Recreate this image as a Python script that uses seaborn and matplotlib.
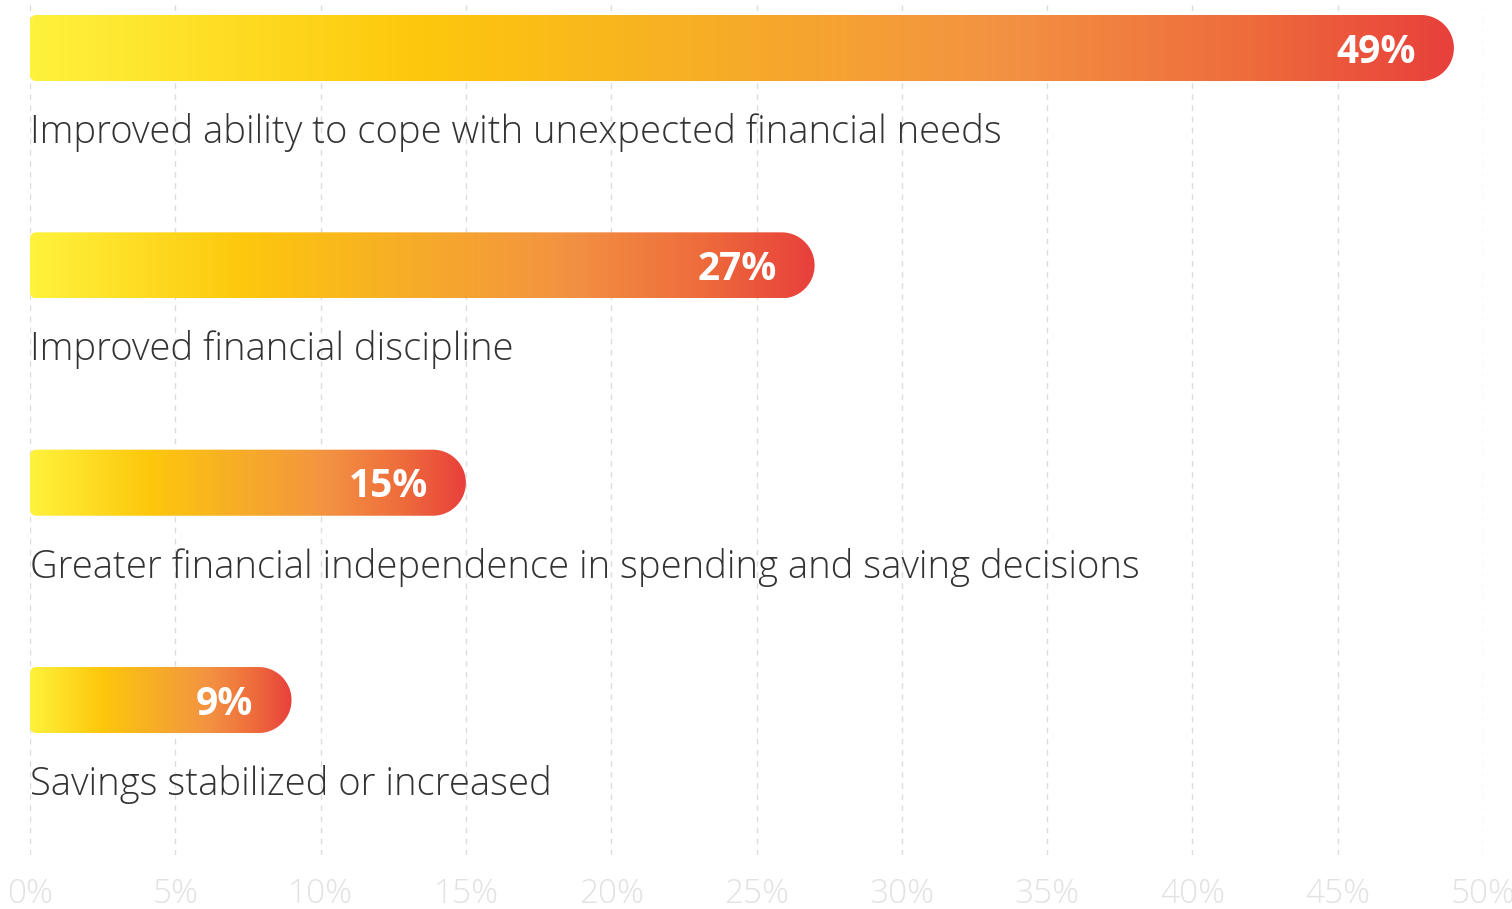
import numpy as np
import matplotlib
matplotlib.use("Agg")
import matplotlib.pyplot as plt
import seaborn as sns
import pandas as pd
from matplotlib.path import Path
from matplotlib.patches import PathPatch
from matplotlib.colors import LinearSegmentedColormap
from matplotlib.transforms import IdentityTransform

# Survey results
categories = [
    "Improved ability to cope with unexpected financial needs",
    "Improved financial discipline",
    "Greater financial independence in spending and saving decisions",
    "Savings stabilized or increased",
]
values = [49, 27, 15, 9]
tick_values = [0, 5, 10, 15, 20, 25, 30, 35, 40, 45, 50]
tick_labels = [f"{v}%" for v in tick_values]

sns.set_theme(style="white")
plt.rcParams["font.family"] = ["Open Sans", "DejaVu Sans"]

W, H, DPI = 1512, 909, 100
fig = plt.figure(figsize=(W / DPI, H / DPI), dpi=DPI)
ax = fig.add_axes([30 / W, 54 / H, 1453 / W, 855 / H])

df = pd.DataFrame({"category": categories, "value": values})
sns.barplot(data=df, x="value", y="category", orient="h", width=0.304,
            color="white", ax=ax, zorder=1)

ax.set_xlim(0, 50)
ax.set_ylim(3.713, -0.221)

# Axis styling
for s in ax.spines.values():
    s.set_visible(False)
ax.set_xlabel("")
ax.set_ylabel("")
ax.set_yticks([])
ax.set_xticks(tick_values)
ax.set_xticklabels(tick_labels, fontsize=24, color="#e2e2e2", fontweight="light")
ax.tick_params(axis="x", length=0, pad=16)
ax.xaxis.grid(True, linestyle=(0, (4, 4)), color="#dcdcdc", linewidth=1)
ax.set_axisbelow(True)

grad_cmap = LinearSegmentedColormap.from_list(
    "bar_grad",
    [(0.0, "#fff23c"), (0.27, "#fdc80c"), (0.52, "#f6a82c"),
     (0.68, "#f39342"), (0.86, "#ee6b3c"), (1.0, "#e8403b")],
)

fig.canvas.draw()


def rounded_bar_path(x0, y0, x1, y1, r_left=6, n=40):
    R = (y1 - y0) / 2.0
    yc = (y0 + y1) / 2.0
    pts = [(x0 + r_left, y0), (x1 - R, y0)]
    for a in np.linspace(-np.pi / 2, np.pi / 2, n):
        pts.append((x1 - R + R * np.cos(a), yc + R * np.sin(a)))
    pts.append((x0 + r_left, y1))
    for a in np.linspace(np.pi / 2, np.pi, n // 2):
        pts.append((x0 + r_left + r_left * np.cos(a), y1 - r_left + r_left * np.sin(a)))
    for a in np.linspace(np.pi, 1.5 * np.pi, n // 2):
        pts.append((x0 + r_left + r_left * np.cos(a), y0 + r_left + r_left * np.sin(a)))
    pts.append(pts[0])
    codes = [Path.MOVETO] + [Path.LINETO] * (len(pts) - 2) + [Path.CLOSEPOLY]
    return Path(pts, codes)


grad = np.linspace(0, 1, 512).reshape(1, -1)
for patch, val, label in zip(ax.patches, values, categories):
    px, py, pw, ph = patch.get_x(), patch.get_y(), patch.get_width(), patch.get_height()
    patch.set_visible(False)
    (dx0, dy0) = ax.transData.transform((px, py + ph))
    (dx1, dy1) = ax.transData.transform((px + pw, py))
    path = rounded_bar_path(dx0, dy0, dx1, dy1)
    clip = PathPatch(path, transform=IdentityTransform(), facecolor="none",
                     edgecolor="none")
    ax.add_artist(clip)
    clip.set_visible(False)
    img = ax.imshow(grad, cmap=grad_cmap, aspect="auto",
                    extent=[px, px + pw, py + ph, py], zorder=3,
                    interpolation="bilinear")
    img.set_clip_path(clip)
    yc = py + ph / 2
    ax.annotate(f"{val:g}%", xy=(px + pw, yc), xytext=(-38, -4),
                textcoords="offset pixels", ha="right", va="center",
                fontsize=28, fontweight="bold", color="white", zorder=4)
    ax.annotate(label, xy=(0, yc), xytext=(0, -95), textcoords="offset pixels",
                ha="left", va="baseline", fontsize=27.5, fontweight="light",
                color="#333333", zorder=4)

ax.set_xlim(0, 50)
ax.set_ylim(3.713, -0.221)

fig.savefig("out.png", dpi=DPI, facecolor="white")
